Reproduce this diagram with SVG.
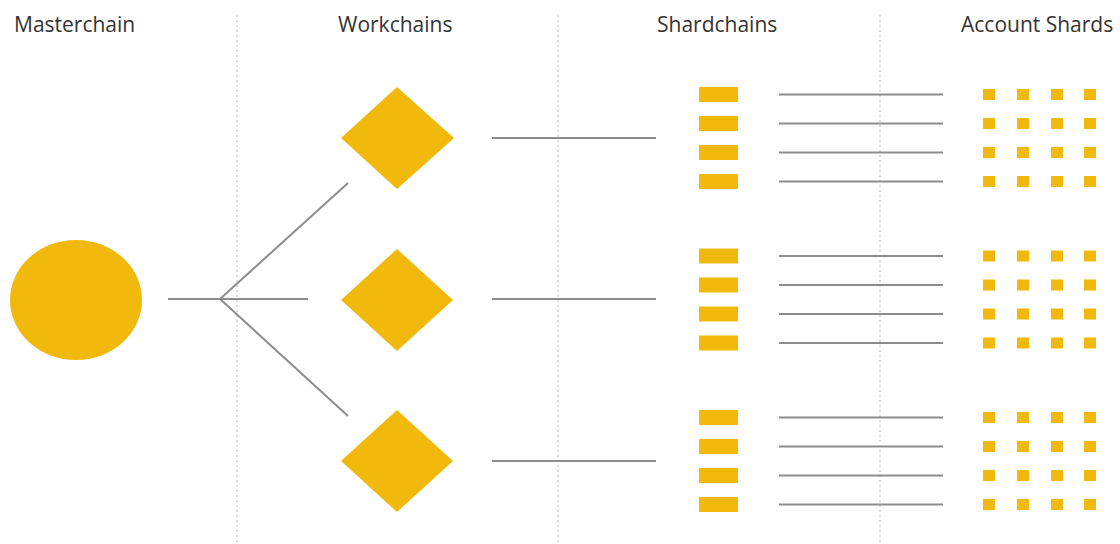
<svg xmlns="http://www.w3.org/2000/svg" width="1120" height="544" viewBox="0 0 1120 544">
<style>
.hdr{font-family:"Open Sans","Liberation Sans",sans-serif;font-size:21px;fill:#333}
.y{fill:#F0B90B}
.c{stroke:#8c8c8c;stroke-width:2;fill:none}
.d{stroke:#cfcfcf;stroke-width:1.5;stroke-dasharray:2 3;fill:none}
</style>
<defs>
<rect id="sr" width="39" height="15" class="y"/>
<g id="row">
<rect x="983" width="12" height="11" class="y"/>
<rect x="1017" width="12" height="11" class="y"/>
<rect x="1051" width="12" height="11" class="y"/>
<rect x="1084" width="12" height="11" class="y"/>
</g>
</defs>
<rect width="1120" height="544" fill="#fff"/>
<g id="dividers">
<line class="d" x1="237" y1="15" x2="237" y2="544"/>
<line class="d" x1="558" y1="15" x2="558" y2="544"/>
<line class="d" x1="880" y1="15" x2="880" y2="544"/>
</g>
<g id="headers">
<text class="hdr" x="14" y="32">Masterchain</text>
<text class="hdr" x="338" y="32">Workchains</text>
<text class="hdr" x="657" y="32">Shardchains</text>
<text class="hdr" x="961" y="32">Account Shards</text>
</g>
<g id="connectors">
<line class="c" x1="168" y1="299" x2="308" y2="299"/>
<line class="c" x1="220" y1="299" x2="348" y2="183"/>
<line class="c" x1="220" y1="299" x2="348" y2="416"/>
<line class="c" x1="492" y1="138" x2="656" y2="138"/>
<line class="c" x1="492" y1="299" x2="656" y2="299"/>
<line class="c" x1="492" y1="461" x2="656" y2="461"/>
<line class="c" x1="779" y1="94.5" x2="943" y2="94.5"/>
<line class="c" x1="779" y1="123.5" x2="943" y2="123.5"/>
<line class="c" x1="779" y1="152.5" x2="943" y2="152.5"/>
<line class="c" x1="779" y1="181.5" x2="943" y2="181.5"/>
<line class="c" x1="779" y1="256" x2="943" y2="256"/>
<line class="c" x1="779" y1="285" x2="943" y2="285"/>
<line class="c" x1="779" y1="314" x2="943" y2="314"/>
<line class="c" x1="779" y1="343" x2="943" y2="343"/>
<line class="c" x1="779" y1="417.5" x2="943" y2="417.5"/>
<line class="c" x1="779" y1="446.5" x2="943" y2="446.5"/>
<line class="c" x1="779" y1="475.5" x2="943" y2="475.5"/>
<line class="c" x1="779" y1="504.5" x2="943" y2="504.5"/>
</g>
<g id="masterchain">
<ellipse class="y" cx="76" cy="300" rx="66" ry="60"/>
</g>
<g id="workchain-1"><polygon class="y" points="397,87 454,138 397,189 341,138"/></g>
<g id="workchain-2"><polygon class="y" points="397,249 453,300 397,351 341,300"/></g>
<g id="workchain-3"><polygon class="y" points="397,410 453,461 397,512 341,461"/></g>
<g id="shardchains-1">
<use href="#sr" x="699" y="87"/><use href="#sr" x="699" y="116"/><use href="#sr" x="699" y="145"/><use href="#sr" x="699" y="174"/>
</g>
<g id="shardchains-2">
<use href="#sr" x="699" y="248.5"/><use href="#sr" x="699" y="277.5"/><use href="#sr" x="699" y="306.5"/><use href="#sr" x="699" y="335.5"/>
</g>
<g id="shardchains-3">
<use href="#sr" x="699" y="410"/><use href="#sr" x="699" y="439"/><use href="#sr" x="699" y="468"/><use href="#sr" x="699" y="497"/>
</g>
<g id="account-shards-1">
<use href="#row" y="89"/><use href="#row" y="118"/><use href="#row" y="147"/><use href="#row" y="176"/>
</g>
<g id="account-shards-2">
<use href="#row" y="250.5"/><use href="#row" y="279.5"/><use href="#row" y="308.5"/><use href="#row" y="337.5"/>
</g>
<g id="account-shards-3">
<use href="#row" y="412"/><use href="#row" y="441"/><use href="#row" y="470"/><use href="#row" y="499"/>
</g>
</svg>
